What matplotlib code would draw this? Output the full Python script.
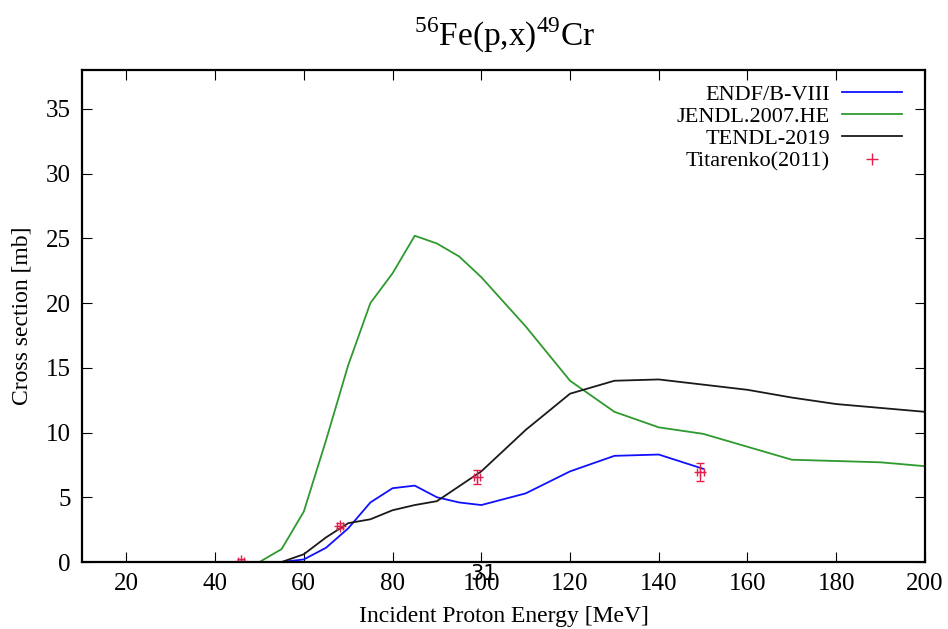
import matplotlib.pyplot as plt
from matplotlib.lines import Line2D

# evaluated cross sections, 56Fe(p,x)49Cr
endf_e = [55, 60, 65, 70, 75, 80, 85, 90, 95, 100, 110, 120, 130, 140, 150]
endf_xs = [0.0, 0.2, 1.1, 2.6, 4.6, 5.7, 5.9, 5.0, 4.6, 4.4, 5.3, 7.0, 8.2, 8.3, 7.2]

jendl_e = [50, 55, 60, 65, 70, 75, 80, 85, 90, 95, 100, 110, 120, 130, 140,
           150, 160, 170, 180, 190, 200]
jendl_xs = [0.0, 1.0, 3.9, 9.4, 15.2, 20.0, 22.3, 25.2, 24.6, 23.6, 22.0, 18.2,
            14.0, 11.6, 10.4, 9.9, 8.9, 7.9, 7.8, 7.7, 7.4]

tendl_e = [55, 60, 65, 70, 75, 80, 85, 90, 100, 110, 120, 130, 140, 150,
           160, 170, 180, 190, 200]
tendl_xs = [0.0, 0.6, 1.9, 3.0, 3.3, 4.0, 4.4, 4.7, 7.0, 10.2, 13.0, 14.0,
            14.1, 13.7, 13.3, 12.7, 12.2, 11.9, 11.6]

# Titarenko (2011) measurements
exp_e = [45.9, 68.2, 99.0, 149.4]
exp_de = [0.7, 0.7, 0.7, 0.7]
exp_xs = [0.05, 2.8, 6.55, 6.95]
exp_dxs = [0.15, 0.2, 0.55, 0.7]

xticks = [20, 40, 60, 80, 100, 120, 140, 160, 180, 200]
yticks = [0, 5, 10, 15, 20, 25, 30, 35]

plt.rcParams['font.family'] = ['Liberation Serif', 'DejaVu Serif']
plt.rcParams['mathtext.fontset'] = 'custom'
plt.rcParams['mathtext.rm'] = 'Liberation Serif'

fig = plt.figure(figsize=(9.48, 6.29), dpi=100)
ax = fig.add_axes([0.0865, 0.1065, 0.8892, 0.7822])

c_exp = '#e0204a'
ax.plot(endf_e, endf_xs, color='#1010ff', lw=1.3)
ax.plot(jendl_e, jendl_xs, color='#2e9a2e', lw=1.3)
ax.plot(tendl_e, tendl_xs, color='#1a1a1a', lw=1.3)
ax.errorbar(exp_e, exp_xs, xerr=exp_de, yerr=exp_dxs, fmt='+', color=c_exp,
            ms=9, mew=1.0, elinewidth=0.9, capsize=3, capthick=0.9)

ax.set_xlim(10, 200)
ax.set_ylim(0, 38)
ax.set_xticks(xticks)
ax.set_yticks(yticks)
ax.tick_params(direction='in', top=True, right=True, length=7, width=0.8,
               labelsize=18, pad=8)
for s in ax.spines.values():
    s.set_linewidth(1.6)

ax.set_xlabel('Incident Proton Energy [MeV]', fontsize=17, labelpad=8)
ax.set_ylabel('Cross section [mb]', fontsize=17, labelpad=10)
fig.text(0.532, 0.943, r'$^{56}\mathrm{Fe(p{,}x)}^{49}\mathrm{Cr}$', ha='center',
         va='center', fontsize=24)

handles = [
    Line2D([], [], color='#1010ff', lw=1.3),
    Line2D([], [], color='#2e9a2e', lw=1.3),
    Line2D([], [], color='#1a1a1a', lw=1.3),
    Line2D([], [], ls='none', marker='+', ms=9, mew=1.0, color=c_exp),
]
labels = ['ENDF/B-VIII', 'JENDL.2007.HE', 'TENDL-2019', 'Titarenko(2011)']
ax.legend(handles, labels, loc='upper right', bbox_to_anchor=(902 / 948, 1 - 84 / 629),
          bbox_transform=fig.transFigure, frameon=False, markerfirst=False,
          fontsize=16, handlelength=2.7, handletextpad=0.55, labelspacing=0.08,
          borderaxespad=0, borderpad=0)

fig.text(0.51, 0.088, '31', ha='center', va='center', fontsize=15,
         family='DejaVu Sans')

fig.savefig('out.png', dpi=100)
